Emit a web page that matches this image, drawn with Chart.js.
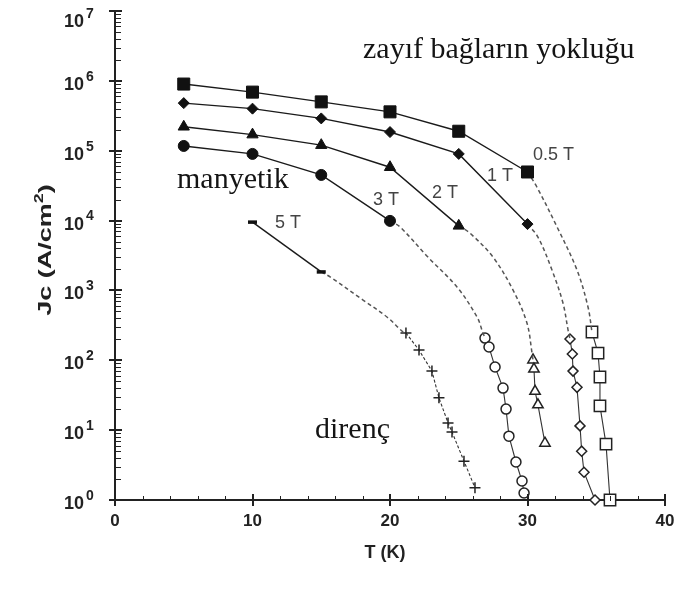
<!DOCTYPE html>
<html>
<head>
<meta charset="utf-8">
<script src="https://cdn.jsdelivr.net/npm/chart.js@4.4.1/dist/chart.umd.min.js"></script>
<style>
  html, body { margin: 0; padding: 0; background: #fff; }
  #wrap { width: 679px; height: 594px; }
</style>
</head>
<body>
<div id="wrap"><canvas id="jcChart" width="679" height="594"></canvas></div>
<script>
// Jc (A/cm2) vs T (K) - transport data at several fields
const tempSolid = [5, 10, 15, 20, 25, 30];
const jc05 = [9.0e5, 6.9e5, 5.0e5, 3.6e5, 1.9e5, 4.96e4];
const jc1 = [4.8e5, 4.0e5, 2.9e5, 1.85e5, 9.0e4, 8.9e3];
const jc2 = [2.2e5, 1.7e5, 1.2e5, 5.8e4, 8.4e3];
const jc3 = [1.17e5, 9.0e4, 4.5e4, 9.9e3];
const temp5 = [10, 15];
const jc5 = [9.5e3, 1.84e3];

// resistive (open symbol) points
const resT05 = [34.69, 35.13, 35.27, 35.27, 35.71, 36.0];
const resJ05 = [254, 127, 57.6, 22.2, 6.3, 1.0];
const resT1 = [33.09, 33.26, 33.31, 33.6, 33.82, 33.94, 34.11, 34.91];
const resJ1 = [202, 123, 70, 41, 11.5, 5.0, 2.5, 1.0];
const resT2 = [30.4, 30.47, 30.55, 30.76, 31.27];
const resJ2 = [101, 75, 36, 23, 6.5];
const resT3 = [26.91, 27.2, 27.64, 28.22, 28.44, 28.65, 29.16, 29.6, 29.75];
const resJ3 = [208, 155, 80, 40, 20, 8.2, 3.5, 1.87, 1.26];
const resT5 = [21.16, 22.11, 23.05, 23.56, 24.22, 24.51, 25.38, 26.18];
const resJ5 = [246, 140, 70, 29, 12.7, 9.4, 3.6, 1.5];

// dashed guides between the two regimes
const guideT05 = [30, 30.69, 32.15, 33.6, 34.4, 34.69];
const guideJ05 = [4.96e4, 3.0e4, 8.1e3, 1.96e3, 580, 254];
const guideT1 = [30, 30.76, 31.78, 32.58, 32.95, 33.09];
const guideJ1 = [8.9e3, 5.8e3, 1.96e3, 660, 271, 202];
const guideT2 = [25, 25.82, 27.49, 28.95, 29.96, 30.33, 30.4];
const guideJ2 = [8.4e3, 6.6e3, 3.0e3, 1.01e3, 342, 127, 101];
const guideT3 = [20, 20.73, 22.76, 24.87, 26.33, 26.76, 26.91];
const guideJ3 = [9.9e3, 8.1e3, 3.0e3, 1.12e3, 417, 246, 208];
const guideT5 = [15, 15.64, 18.04, 19.78, 20.95, 21.16];
const guideJ5 = [1.84e3, 1.56e3, 729, 417, 254, 246];

// axis ticks
const xTicks = [0, 10, 20, 30, 40];
const yExponents = [0, 1, 2, 3, 4, 5, 6, 7];

const pts = (xs, ys) => xs.map((x, i) => ({ x, y: ys[i] }));

function filled(xs, ys, style, r, bw) {
  return {
    data: pts(xs, ys), showLine: true, clip: false,
    borderColor: '#1a1a1a', borderWidth: 1.4,
    pointStyle: style, pointRadius: r, pointHoverRadius: r,
    pointBackgroundColor: '#111', pointBorderColor: '#111', pointBorderWidth: bw || 1
  };
}

function open(xs, ys, style, r, dash) {
  return {
    data: pts(xs, ys), showLine: true, clip: false,
    borderColor: '#333', borderWidth: 1.1, borderDash: dash || [],
    pointStyle: style, pointRadius: r, pointHoverRadius: r,
    pointBackgroundColor: '#fff', pointBorderColor: '#222', pointBorderWidth: 1.5
  };
}

function guide(xs, ys) {
  return {
    data: pts(xs, ys), showLine: true, clip: false,
    borderColor: '#555', borderWidth: 1.5, borderDash: [4, 3],
    tension: 0.35, pointRadius: 0, pointHoverRadius: 0
  };
}

const sans = '"Liberation Sans", Arial, sans-serif';
const serif = '"Liberation Serif", "Times New Roman", serif';

// tick marks, tick labels, axis titles and the in-plot notes
const decor = {
  id: 'decor',
  afterDraw(chart) {
    const { ctx, scales: { x, y } } = chart;
    const ax = x.getPixelForValue(0);
    const ay = y.getPixelForValue(1);
    ctx.save();
    ctx.strokeStyle = '#222';

    // y ticks
    ctx.lineWidth = 1;
    ctx.beginPath();
    yExponents.forEach(e => {
      if (e === 7) return;
      for (let m = 2; m < 10; m++) {
        const p = Math.round(y.getPixelForValue(m * 10 ** e)) + 0.5;
        ctx.moveTo(ax - 1, p); ctx.lineTo(ax + 6, p);
      }
    });
    ctx.stroke();
    ctx.lineWidth = 2;
    ctx.beginPath();
    yExponents.forEach(e => {
      const p = Math.round(y.getPixelForValue(10 ** e));
      ctx.moveTo(ax - 6, p); ctx.lineTo(ax + 7, p);
    });
    ctx.stroke();

    // x ticks
    ctx.lineWidth = 1;
    ctx.beginPath();
    for (let t = 2; t < 40; t += 2) {
      if (t % 10 === 0) continue;
      const p = Math.round(x.getPixelForValue(t)) + 0.5;
      ctx.moveTo(p, ay - 4); ctx.lineTo(p, ay + 1);
    }
    ctx.stroke();
    ctx.lineWidth = 2;
    ctx.beginPath();
    xTicks.forEach(t => {
      const p = Math.round(x.getPixelForValue(t));
      ctx.moveTo(p, ay - 6); ctx.lineTo(p, ay + 6);
    });
    ctx.stroke();

    // tick labels
    ctx.fillStyle = '#222';
    ctx.textBaseline = 'middle';
    yExponents.forEach(e => {
      const cy = Math.max(y.getPixelForValue(10 ** e) + 4, 22);
      ctx.font = 'bold 18px ' + sans;
      ctx.textAlign = 'right';
      ctx.fillText('10', 84, cy);
      ctx.font = 'bold 14px ' + sans;
      ctx.textAlign = 'left';
      ctx.fillText(String(e), 86, cy - 8);
    });
    ctx.font = 'bold 17px ' + sans;
    ctx.textAlign = 'center';
    xTicks.forEach(t => ctx.fillText(String(t), x.getPixelForValue(t), 521));

    // axis titles
    ctx.font = 'bold 18px ' + sans;
    ctx.fillText('T (K)', 385, 553);

    ctx.save();
    ctx.translate(46, 250);
    ctx.rotate(-Math.PI / 2);
    ctx.scale(1.5, 1);
    const a = 'Jc (A/cm', b = ')';
    ctx.font = 'bold 18px ' + sans;
    const wa = ctx.measureText(a).width, wb = ctx.measureText(b).width;
    ctx.font = 'bold 12px ' + sans;
    const ws = ctx.measureText('2').width;
    let sx = -(wa + ws + wb) / 2;
    ctx.textAlign = 'left';
    ctx.font = 'bold 18px ' + sans;
    ctx.fillText(a, sx, 0);
    ctx.font = 'bold 12px ' + sans;
    ctx.fillText('2', sx + wa, -6);
    ctx.font = 'bold 18px ' + sans;
    ctx.fillText(b, sx + wa + ws, 0);
    ctx.restore();

    // field labels
    ctx.font = '18px ' + sans;
    ctx.fillStyle = '#444';
    ctx.textAlign = 'left';
    ctx.fillText('0.5 T', 533, 155);
    ctx.fillText('1 T', 487, 176);
    ctx.fillText('2 T', 432, 193);
    ctx.fillText('3 T', 373, 200);
    ctx.fillText('5 T', 275, 223);

    // regime notes
    ctx.font = '30px ' + serif;
    ctx.fillStyle = '#141414';
    ctx.textBaseline = 'alphabetic';
    ctx.fillText('zayıf bağların yokluğu', 363, 58);
    ctx.fillText('manyetik', 177, 188);
    ctx.fillText('direnç', 315, 438);
    ctx.restore();
  }
};

new Chart(document.getElementById('jcChart'), {
  type: 'scatter',
  data: {
    datasets: [
      filled(tempSolid, jc05, 'rect', 8.5),
      filled(tempSolid, jc1, 'rectRot', 5.5),
      filled(tempSolid.slice(0, 5), jc2, 'triangle', 6.5),
      filled(tempSolid.slice(0, 4), jc3, 'circle', 5.5),
      filled(temp5, jc5, 'line', 4.5, 3.5),
      guide(guideT05, guideJ05),
      guide(guideT1, guideJ1),
      guide(guideT2, guideJ2),
      guide(guideT3, guideJ3),
      guide(guideT5, guideJ5),
      open(resT05, resJ05, 'rect', 8),
      open(resT1, resJ1, 'rectRot', 5),
      open(resT2, resJ2, 'triangle', 6),
      open(resT3, resJ3, 'circle', 5),
      open(resT5, resJ5, 'cross', 5.5, [3, 2])
    ]
  },
  options: {
    responsive: false,
    animation: false,
    layout: { padding: { top: 11, right: 14, left: 0, bottom: 0 } },
    plugins: { legend: { display: false }, tooltip: { enabled: false } },
    scales: {
      x: {
        type: 'linear', min: 0, max: 40,
        grid: { display: false },
        border: { display: true, color: '#222', width: 2 },
        ticks: { display: false },
        afterFit: s => { s.height = 94; }
      },
      y: {
        type: 'logarithmic', min: 1, max: 1e7,
        grid: { display: false },
        border: { display: true, color: '#222', width: 2 },
        ticks: { display: false },
        afterFit: s => { s.width = 115; }
      }
    }
  },
  plugins: [decor]
});
</script>
</body>
</html>
